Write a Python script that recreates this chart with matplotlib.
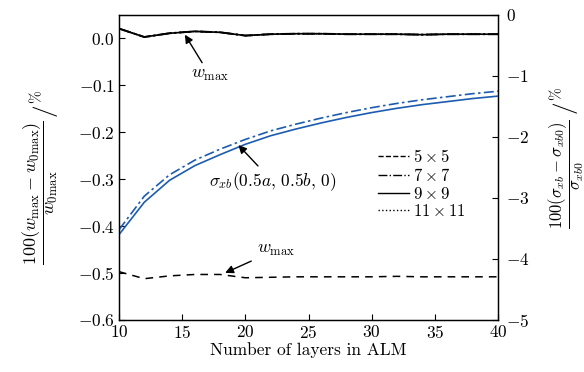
import matplotlib
matplotlib.use('Agg')
import matplotlib.pyplot as plt

plt.rcParams['font.family'] = 'cmr10'
plt.rcParams['mathtext.fontset'] = 'cm'
plt.rcParams['axes.formatter.use_mathtext'] = True
plt.rcParams['axes.unicode_minus'] = True

# ── Data ──────────────────────────────────────────────────────────────────
layers = [10, 12, 14, 16, 18, 20, 22, 24, 26, 28, 30, 32, 34, 36, 38, 40]

# w_max deviation (left axis, %), mesh 7x7 / 9x9 / 11x11 nearly coincide
wmax_fine = [0.021, 0.003, 0.011, 0.015, 0.013, 0.006, 0.009, 0.010,
             0.010, 0.009, 0.009, 0.009, 0.008, 0.009, 0.009, 0.009]
# w_max deviation for the 5x5 mesh
wmax_5x5 = [-0.497, -0.512, -0.506, -0.503, -0.503, -0.510, -0.509, -0.508,
            -0.508, -0.508, -0.508, -0.507, -0.508, -0.508, -0.508, -0.508]

# sigma_xb deviation (right axis, %)
sigma_7x7 = [-3.52, -2.97, -2.62, -2.38, -2.20, -2.04, -1.90, -1.79,
             -1.69, -1.60, -1.52, -1.45, -1.39, -1.34, -1.29, -1.25]
sigma_9x9 = [-3.60, -3.07, -2.71, -2.47, -2.29, -2.12, -1.98, -1.87,
             -1.77, -1.68, -1.60, -1.53, -1.47, -1.42, -1.37, -1.33]

mesh_labels = [r'$5\times5$', r'$7\times7$', r'$9\times9$', r'$11\times11$']
mesh_styles = ['--', '-.', '-', ':']

blue = '#1c5cb0'

fig = plt.figure(figsize=(5.84, 3.72), dpi=100)
ax = fig.add_axes([0.2038, 0.1398, 0.649, 0.820])
ax2 = ax.twinx()

# left axis: w_max curves
ax.plot(layers, wmax_fine, color='black', ls=':', lw=1.2)
ax.plot(layers, wmax_fine, color='black', ls='-', lw=1.2)
ax.plot(layers, wmax_fine, color='black', ls='-.', lw=1.4)
ax.plot(layers, wmax_5x5, color='black', ls='--', lw=1.1, dashes=(5, 4))

# right axis: sigma curves
ax2.plot(layers, sigma_7x7, color=blue, ls='-.', lw=1.2, dashes=(6, 2, 1.5, 2))
ax2.plot(layers, sigma_9x9, color=blue, ls='-', lw=1.2)

ax.set_xlim(10, 40)
ax.set_ylim(-0.6, 0.05)
ax2.set_ylim(-5, 0)
ax.set_xticks(range(10, 41, 5))
ax.set_yticks([-0.6, -0.5, -0.4, -0.3, -0.2, -0.1, 0.0])
ax2.set_yticks([-5, -4, -3, -2, -1, 0])

ax.tick_params(direction='in', length=4, labelsize=12.5, pad=3)
ax2.tick_params(direction='in', length=4, labelsize=12.5, pad=6)
for a in (ax, ax2):
    for s in a.spines.values():
        s.set_linewidth(0.9)

ax.set_xlabel('Number of layers in ALM', fontsize=12.5, labelpad=1)

# y labels: fraction, then a large slash and a raised percent sign
fig.text(0.068, 0.482, r'$\dfrac{100(w_{\max}-w_{0\max})}{w_{0\max}}$',
         rotation=90, ha='center', va='center', fontsize=13)
fig.text(0.075, 0.704, '/', rotation=90, ha='center', va='center', fontsize=18)
fig.text(0.061, 0.740, r'$\%$', rotation=90, ha='center', va='center', fontsize=11)

fig.text(0.970, 0.530, r'$\dfrac{100(\sigma_{xb}-\sigma_{xb0})}{\sigma_{xb0}}$',
         rotation=90, ha='center', va='center', fontsize=12)
fig.text(0.966, 0.712, '/', rotation=90, ha='center', va='center', fontsize=18)
fig.text(0.953, 0.746, r'$\%$', rotation=90, ha='center', va='center', fontsize=11)

# legend with black proxy lines
handles = [plt.Line2D([], [], color='black', ls=st, lw=1.0) for st in mesh_styles]
ax.legend(handles, mesh_labels, loc='upper left', bbox_to_anchor=(0.665, 0.585),
          frameon=False, fontsize=12, handlelength=1.9, handletextpad=0.2,
          labelspacing=0.1, borderaxespad=0)

arrow = dict(arrowstyle='-|>', color='black', lw=1.0, mutation_scale=12)
ax.annotate(r'$w_{\max}$', xy=(15.1, 0.013), xytext=(17.2, -0.079),
            fontsize=13, ha='center', va='center', arrowprops=arrow)
ax.annotate(r'$w_{\max}$', xy=(18.2, -0.502), xytext=(22.4, -0.451),
            fontsize=13, ha='center', va='center', arrowprops=arrow)
ax2.annotate(r'$\sigma_{xb}(0.5a,\,0.5b,\,0)$', xy=(19.3, -2.10),
             xytext=(22.2, -2.74), fontsize=12.5, ha='center', va='center',
             arrowprops=arrow)

fig.savefig('out.png', dpi=100)
